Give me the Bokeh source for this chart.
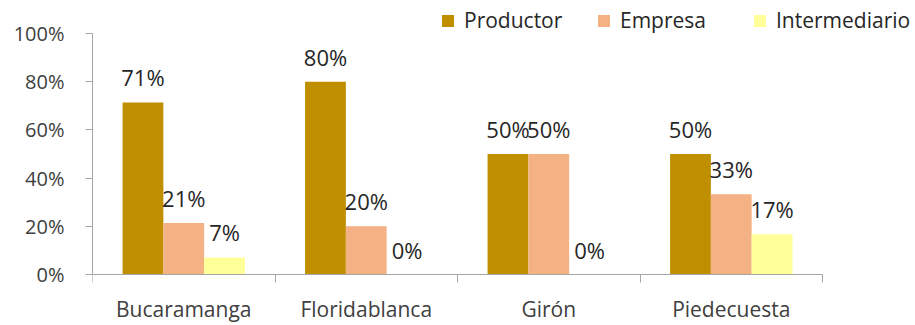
import numpy as np
from bokeh.plotting import figure
from bokeh.models import (ColumnDataSource, Range1d, FixedTicker, Legend, LegendItem,
                          NumeralTickFormatter)
from bokeh.embed import file_html
from bokeh.resources import INLINE

categories = ["Bucaramanga", "Floridablanca", "Girón", "Piedecuesta"]
series = ["Productor", "Empresa", "Intermediario"]
productor = [71.4, 80.0, 50.0, 50.0]
empresa = [21.4, 20.0, 50.0, 33.3]
intermediario = [7.1, 0.0, 0.0, 16.7]
colors = ["#BF8F00", "#F4B183", "#FFFF99"]
y_ticks = [0, 0.2, 0.4, 0.6, 0.8, 1.0]

FONT = "Open Sans"
TXT = "#404040"

p = figure(width=915, height=325, output_backend="svg", toolbar_location=None,
           x_range=Range1d(0, 4.493), y_range=Range1d(-0.2116, 1.1162))
p.min_border_left = 92
p.min_border_right = 3
p.min_border_top = 5
p.min_border_bottom = 0
p.outline_line_color = None
p.grid.visible = False
p.background_fill_color = "white"
p.border_fill_color = "white"

bar_w = 0.2235
offsets = [-bar_w, 0.0, bar_w]
idx = np.arange(len(categories)) + 0.5
renderers = []
for name, vals, col, off in zip(series, [productor, empresa, intermediario], colors, offsets):
    v = np.array(vals) / 100.0
    src = ColumnDataSource(dict(x=idx + off, top=v,
                                lab=[f"{round(x):d}%" for x in vals]))
    r = p.vbar(x="x", top="top", bottom=0, width=bar_w, source=src, fill_color=col, line_color=None)
    renderers.append(r)
    p.text(x="x", y="top", text="lab", source=src, text_align="center",
           text_baseline="alphabetic", y_offset=-25, text_font_size="22px",
           text_font={"value": FONT}, text_color="#262626")

# x axis drawn at y = 0 inside the frame
xa = p.xaxis[0]
xa.fixed_location = 0
xa.bounds = (0, len(categories))
xa.ticker = FixedTicker(ticks=list(idx), minor_ticks=list(range(len(categories) + 1)))
xa.major_label_overrides = {float(i): c for i, c in zip(idx, categories)}
xa.major_tick_out = 0
xa.major_tick_in = 0
xa.minor_tick_out = 8
xa.minor_tick_in = 0
xa.minor_tick_line_color = "#A6A6A6"
xa.axis_line_color = "#A6A6A6"
xa.major_label_standoff = 12
xa.major_label_text_font = FONT
xa.major_label_text_font_size = "21px"
xa.major_label_text_color = TXT

ya = p.yaxis[0]
ya.ticker = FixedTicker(ticks=y_ticks)
ya.bounds = (0, 1)
ya.formatter = NumeralTickFormatter(format="0%")
ya.major_tick_out = 7
ya.major_tick_in = 0
ya.minor_tick_out = 0
ya.minor_tick_in = 0
ya.axis_line_color = "#A6A6A6"
ya.major_tick_line_color = "#A6A6A6"
ya.major_label_standoff = 21
ya.major_label_text_font = FONT
ya.major_label_text_font_size = "20px"
ya.major_label_text_color = TXT

legend = Legend(items=[LegendItem(label=s, renderers=[r]) for s, r in zip(series, renderers)],
                orientation="horizontal", location=(348, 291), glyph_width=15, glyph_height=15,
                label_standoff=9, label_width=132, spacing=0, padding=0, margin=0,
                border_line_color=None, background_fill_alpha=0,
                label_text_font=FONT, label_text_font_size="21px", label_text_color="#262626")
p.add_layout(legend, "center")

open("out.html", "w").write(file_html(p, INLINE))
